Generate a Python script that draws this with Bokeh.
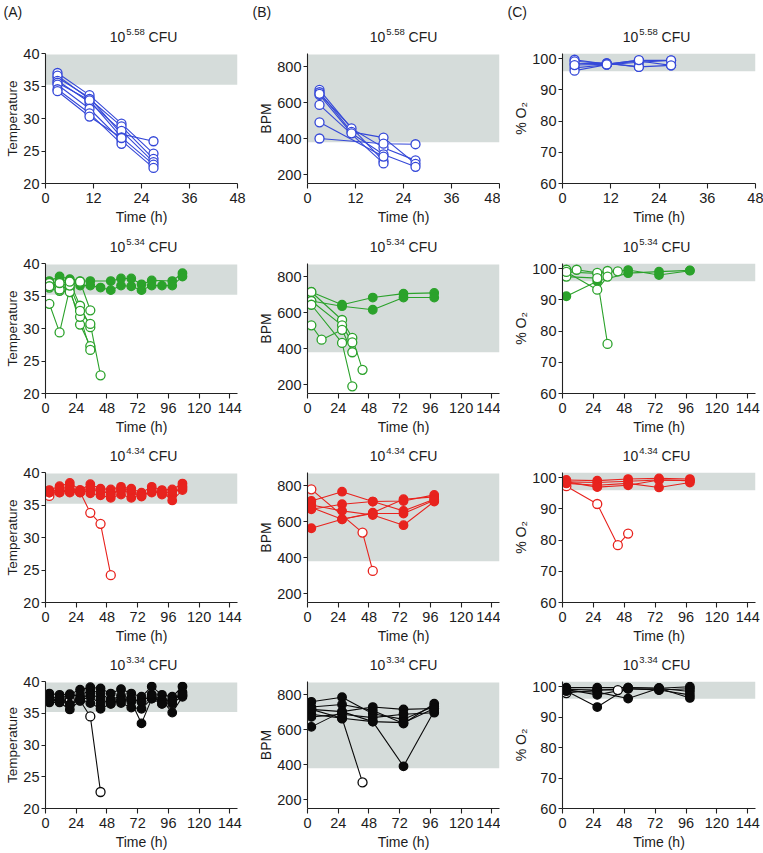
from bokeh.plotting import figure
from bokeh.layouts import column, row
from bokeh.models import BoxAnnotation, Label, Range1d, FixedTicker
from bokeh.embed import file_html
from bokeh.resources import INLINE

FONT = "Liberation Sans"
TXT = "#1c1c1c"
AX = "#222222"
BAND_COLOR = "#d5dcda"
COLORS = ["#3548d8", "#2ba22b", "#e8231e", "#0a0a0a"]

# ---------------- data ----------------
DOSES = ["5.58", "5.34", "4.34", "3.34"]
LETTERS = ["(A)", "(B)", "(C)"]

TIME_558 = [3, 11, 19, 27]
TIME_TEMP = [3, 11, 19, 27, 35, 43, 51, 59, 67, 75, 83, 91, 99, 107]
TIME_SPARSE = [3, 11, 27, 35, 43, 51, 75, 99]

X_TICKS_48 = [0, 12, 24, 36, 48]
X_TICKS_144 = [0, 24, 48, 72, 96, 120, 144]
TEMP_TICKS = [20, 25, 30, 35, 40]
BPM_TICKS = [200, 400, 600, 800]
O2_TICKS = [60, 70, 80, 90, 100]

TEMP_RANGE = (20, 40)
BPM_RANGE = (150, 875)
O2_RANGE = (60, 101.7)

TEMP_BAND = (35.2, 39.85)
BPM_BAND = (380, 870)
O2_BAND = (96.0, 101.7)

# 10^5.58 CFU (all died)
TEMP_558_DIED = [
    [36.3, 33.2, 27.6, 26.5],
    [37.0, 33.6, 29.2, 24.6],
    [36.6, 33.0, 28.8, 23.8],
    [35.8, 32.5, 28.1, 23.3],
    [35.5, 32.8, 27.1, 22.9],
    [35.2, 31.5, 26.6, 22.4],
    [34.5, 30.8, 26.1, None],
    [34.2, 30.3, 27.0, None],
]
BPM_558_DIED = [
    [672, 457, 350, 279],
    [659, 438, 406, 260],
    [644, 430, 312, 243],
    [650, None, 275, None],
    [588, None, 262, None],
    [491, None, 300, None],
    [401, None, 372, 369],
]
O2_558_DIED = [
    [99.7, 98.3, 99.5, 99.5],
    [98.4, 98.6, 97.4, 97.9],
    [97.1, 98.1, 98.9, 99.5],
    [96.2, 98.1, 99.3, 97.9],
    [99.2, 98.5, 97.4, None],
    [98.0, 98.2, 99.6, None],
]

# 10^5.34 CFU
TEMP_534_SURV = [
    [37.3, 38.0, 37.6, 37.3, 37.3, None, 37.3, 37.7, 37.7, 36.8, 37.4, None, 37.3, 38.5],
    [36.6, 37.5, 37.3, 36.6, 36.6, 36.3, 35.9, 36.6, 36.5, 35.9, 36.6, 36.6, 36.6, 38.0],
]
TEMP_534_DIED = [
    [33.8, 29.4, 36.2, 30.6, 27.3] + [None] * 9,
    [36.8, 36.5, 37.1, 33.5, 30.2] + [None] * 9,
    [36.3, 35.8, 35.6, 31.8, 26.7] + [None] * 9,
    [37.0, 36.0, 36.6, 32.7, 30.7, 22.8] + [None] * 8,
    [36.5, 37.0, 37.2, 37.2, 32.8] + [None] * 9,
]
BPM_534_SURV = [
    [716, None, 645, None, None, 685, 707, 711],
    [666, None, 637, None, None, 617, 685, 685],
]
BPM_534_DIED = [
    [716, None, 560, 460, 282, None, None, None],
    [666, None, 530, 435, None, None, None, None],
    [645, None, 432, 190, None, None, None, None],
    [530, 450, 505, 380, None, None, None, None],
]
O2_534_SURV = [
    [91.2, None, 96.0, None, None, 98.6, 99.1, 99.5],
    [99.0, None, 98.5, None, None, 99.6, 98.0, 99.4],
]
O2_534_DIED = [
    [99.7, 99.7, 98.7, 99.3, 99.2, None, None, None],
    [97.5, None, 97.0, 75.9, None, None, None, None],
    [99.0, None, 93.3, 97.5, None, None, None, None],
]

# 10^4.34 CFU
TEMP_434_SURV = [
    [37.3, 37.9, 38.4, 37.3, 38.2, 37.5, 37.4, 37.8, 37.5, 36.9, 37.8, 37.3, 37.4, 38.3],
    [36.9, 37.4, 37.9, 36.9, 37.4, 37.0, 36.9, 37.2, 36.9, 36.3, 37.3, 36.6, 36.5, 37.9],
    [37.0, 36.9, 37.3, 37.3, 36.8, 36.5, 36.1, 36.6, 36.1, 36.6, 36.9, 37.0, 35.7, 37.3],
    [36.9, 37.6, 36.9, 37.0, 37.6, 37.3, 36.6, 37.4, 37.3, 36.4, 37.1, 36.8, 37.0, 37.6],
]
TEMP_434_DIED = [
    [36.4, 37.0, 37.2, 37.0, 33.8, 32.1, 24.2] + [None] * 7,
]
BPM_434_SURV = [
    [564, None, 614, None, None, 651, 726, 739],
    [670, None, 698, None, None, 713, 716, 750],
    [694, None, 661, None, None, 638, 581, 713],
    [716, None, 768, None, None, 713, 661, 726],
    [680, None, 614, None, None, 646, 646, 720],
]
BPM_434_DIED = [
    [781, None, None, None, 540, 326, None, None],
]
O2_434_SURV = [
    [99.3, None, 99.1, None, None, 99.6, 99.8, 99.6],
    [98.7, None, 98.5, None, None, 98.9, 99.3, 99.1],
    [98.2, None, 97.6, None, None, 98.2, 96.9, 98.5],
    [98.7, None, 97.0, None, None, 97.6, 99.3, 99.1],
]
O2_434_DIED = [
    [97.3, None, 91.6, None, 78.4, 82.1, None, None],
]

# 10^3.34 CFU
TEMP_334_SURV = [
    [38.1, 37.9, 38.0, 38.7, 39.1, 38.9, 38.1, 38.8, 38.1, 37.6, 39.2, 37.9, 37.6, 39.2],
    [37.6, 37.4, 37.8, 37.8, 38.7, 38.1, 37.1, 37.8, 37.3, 36.8, 37.9, 37.1, 37.0, 38.3],
    [37.2, 37.0, 36.3, 37.2, 38.1, 37.3, 36.5, 37.1, 36.8, 33.4, 37.3, 36.5, 36.5, 37.8],
    [36.7, 36.7, 35.6, 37.0, 37.6, 36.5, 37.1, 36.6, 35.9, 35.7, 37.3, 37.1, 35.1, 37.6],
    [37.0, 37.4, 36.4, 37.2, 36.6, 35.7, 36.5, 37.1, 37.3, 36.8, 37.9, 36.5, 37.0, 38.0],
]
TEMP_334_DIED = [
    [37.0, 37.0, 37.1, 37.0, 34.5, 22.6] + [None] * 8,
]
BPM_334_SURV = [
    [759, None, 785, None, None, 691, 659, 734],
    [729, None, 744, None, None, 710, 635, 748],
    [716, None, 703, None, None, 729, 716, 721],
    [688, None, 665, None, None, 646, 391, 706],
    [673, None, 688, None, None, 669, 688, 697],
    [616, None, 703, None, None, 646, 640, 721],
]
BPM_334_DIED = [
    [716, None, 665, None, 299, None, None, None],
]
O2_334_SURV = [
    [99.7, None, 99.7, None, None, 99.7, 99.5, 100.0],
    [99.1, None, 98.9, None, None, 99.3, 98.9, 99.3],
    [98.6, None, 98.2, None, None, 96.1, 99.5, 98.4],
    [99.1, None, 97.3, None, None, 99.3, 98.9, 97.3],
    [98.6, None, 93.3, None, None, 99.7, 99.5, 96.3],
]
O2_334_DIED = [
    [97.9, None, 98.9, None, 98.9, None, None, None],
]

# ---------------- layout ----------------
COL_W = [250, 250, 263]
COL_BL = [45, 57, 62]
COL_BR = [13, 1, 8]
TITLE_H = [45, 27, 26, 26]
TITLE_MID = 9
SUP_RAISE = 5
TITLE_XC = [143, 153, 156]
LETTER_X = [3, 2, 7]
PLOT_BT = 8
FRAME_H = [130, 130, 130, 127]
PLOT_BB = [45, 45, 45, 44]


def style_axis(ax, label, label_size, tick_out, label_standoff, axis_standoff):
    ax.axis_label = label
    ax.axis_line_color = AX
    ax.axis_line_width = 1.1
    ax.major_tick_line_color = AX
    ax.major_tick_line_width = 1.1
    ax.major_tick_in = 0
    ax.major_tick_out = tick_out
    ax.minor_tick_line_color = None
    ax.major_label_standoff = label_standoff
    ax.major_label_text_font = FONT
    ax.major_label_text_font_size = "14.5px"
    ax.major_label_text_color = TXT
    ax.axis_label_text_font = FONT
    ax.axis_label_text_font_size = label_size
    ax.axis_label_text_font_style = "normal"
    ax.axis_label_text_color = TXT
    ax.axis_label_standoff = axis_standoff


def title_fig(ri, ci):
    w, h = COL_W[ci], TITLE_H[ri]
    f = figure(width=w, height=h, output_backend="svg", toolbar_location=None,
               x_range=Range1d(0, w), y_range=Range1d(0, h),
               x_axis_type=None, y_axis_type=None, min_border=0)
    f.outline_line_color = None
    f.background_fill_color = "white"
    f.border_fill_color = "white"
    fs, fss = 14.0, 9.5
    w10 = 1.112 * fs
    wsup = 1.946 * fss
    wsp = 0.278 * fs
    wcfu = 2.055 * fs
    W = w10 + 1 + wsup + wsp + wcfu
    x0 = TITLE_XC[ci] - W / 2
    common = dict(text_font=FONT, text_color=TXT, text_baseline="middle", text_align="left")
    f.add_layout(Label(x=x0, y=TITLE_MID, text="10", text_font_size=f"{fs}px", **common))
    f.add_layout(Label(x=x0 + w10 + 1, y=TITLE_MID + SUP_RAISE, text=DOSES[ri],
                       text_font_size=f"{fss}px", **common))
    f.add_layout(Label(x=x0 + w10 + 1 + wsup + wsp, y=TITLE_MID, text="CFU",
                       text_font_size=f"{fs}px", **common))
    if ri == 0:
        f.add_layout(Label(x=LETTER_X[ci], y=h - 11.5, text=LETTERS[ci],
                           text_font_size="14px", **common))
    return f


def draw_lines(p, times, series, color):
    for s in series:
        ts = [t for t, v in zip(times, s) if v is not None]
        vs = [v for v in s if v is not None]
        p.line(ts, vs, line_color=color, line_width=1.1)


def draw_markers(p, times, series, color, filled, size):
    for s in series:
        ts = [t for t, v in zip(times, s) if v is not None]
        vs = [v for v in s if v is not None]
        p.scatter(ts, vs, marker="circle", size=size, line_color=color, line_width=1.3,
                  fill_color=color if filled else "white")


def plot_fig(ri, ci, times, surv, died, color):
    xmax = 48 if ri == 0 else 150
    xticks = X_TICKS_48 if ri == 0 else X_TICKS_144
    if ci == 0:
        yr, band, yticks, ylab, lsize = TEMP_RANGE, TEMP_BAND, TEMP_TICKS, "Temperature", "13.5px"
    elif ci == 1:
        yr, band, yticks, ylab, lsize = BPM_RANGE, BPM_BAND, BPM_TICKS, "BPM", "14px"
    else:
        yr, band, yticks, ylab, lsize = O2_RANGE, O2_BAND, O2_TICKS, "% O\u2082", "14px"
    h = PLOT_BT + FRAME_H[ri] + PLOT_BB[ri]
    p = figure(width=COL_W[ci], height=h, output_backend="svg", toolbar_location=None,
               x_range=Range1d(0, xmax), y_range=Range1d(*yr),
               min_border_left=COL_BL[ci], min_border_right=COL_BR[ci],
               min_border_top=PLOT_BT, min_border_bottom=PLOT_BB[ri])
    p.outline_line_color = None
    p.xgrid.visible = False
    p.ygrid.visible = False
    p.background_fill_color = "white"
    p.border_fill_color = "white"
    p.xaxis.ticker = FixedTicker(ticks=xticks)
    p.yaxis.ticker = FixedTicker(ticks=yticks)
    style_axis(p.xaxis[0], "Time (h)", "14px", 5, 4, 3)
    style_axis(p.yaxis[0], ylab, lsize, 4, 2, 0)

    p.add_layout(BoxAnnotation(bottom=band[0], top=band[1], fill_color=BAND_COLOR,
                               fill_alpha=1.0, line_color=None, level="underlay"))

    draw_lines(p, times, surv, color)
    draw_lines(p, times, died, color)
    if ri < 2:
        draw_markers(p, times, surv, color, True, 8.5)
        draw_markers(p, times, died, color, False, 9)
    else:
        draw_markers(p, times, died, color, False, 9)
        draw_markers(p, times, surv, color, True, 8.5)
    return p


PANELS = [
    [(TIME_558, [], TEMP_558_DIED), (TIME_558, [], BPM_558_DIED), (TIME_558, [], O2_558_DIED)],
    [(TIME_TEMP, TEMP_534_SURV, TEMP_534_DIED), (TIME_SPARSE, BPM_534_SURV, BPM_534_DIED),
     (TIME_SPARSE, O2_534_SURV, O2_534_DIED)],
    [(TIME_TEMP, TEMP_434_SURV, TEMP_434_DIED), (TIME_SPARSE, BPM_434_SURV, BPM_434_DIED),
     (TIME_SPARSE, O2_434_SURV, O2_434_DIED)],
    [(TIME_TEMP, TEMP_334_SURV, TEMP_334_DIED), (TIME_SPARSE, BPM_334_SURV, BPM_334_DIED),
     (TIME_SPARSE, O2_334_SURV, O2_334_DIED)],
]

rows = []
for ri in range(4):
    rows.append(row(*[title_fig(ri, ci) for ci in range(3)]))
    figs = []
    for ci in range(3):
        t, s, d = PANELS[ri][ci]
        figs.append(plot_fig(ri, ci, t, s, d, COLORS[ri]))
    rows.append(row(*figs))

layout = column(*rows)
open("out.html", "w").write(file_html(layout, INLINE))
